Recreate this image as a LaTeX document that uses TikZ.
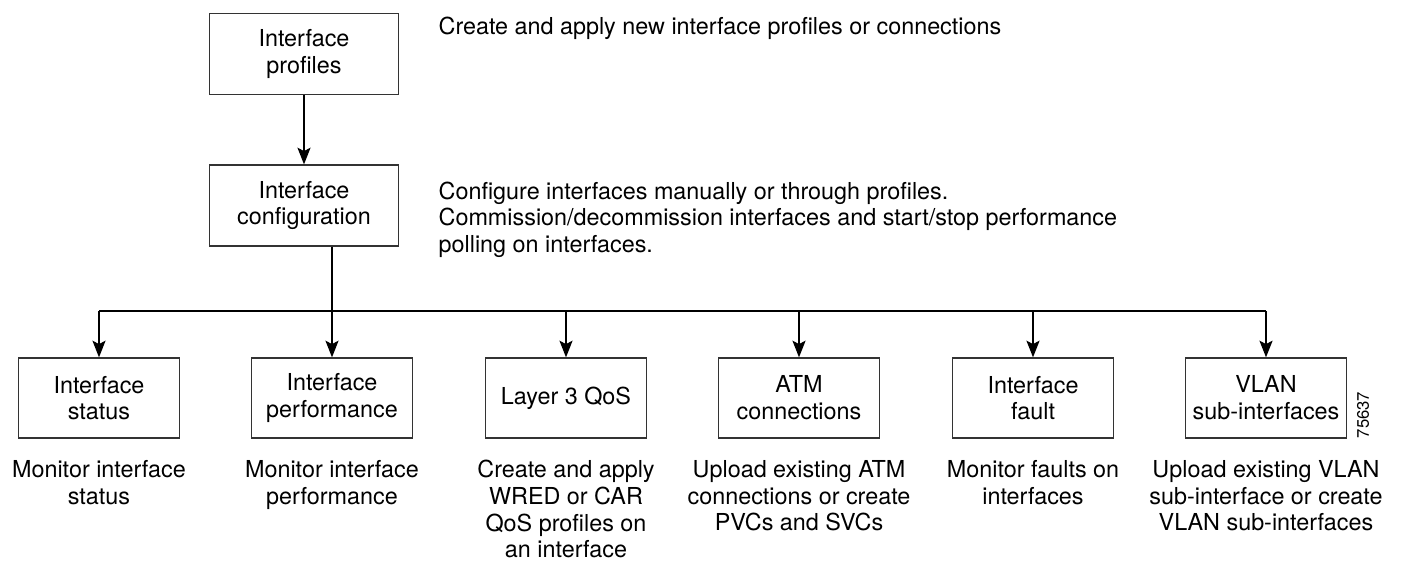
\documentclass[tikz,border=0pt]{standalone}
\usepackage{fontspec}
\setmainfont{TeX Gyre Heros}
\usetikzlibrary{positioning,arrows.meta}
\begin{document}
\begin{tikzpicture}[x=0.02cm,y=-0.02cm]
\def\ybox{398}
\def\ydesc{0.42cm}
\tikzset{base/.style={draw=black!80,line width=0.8pt,align=center,
font=\fontsize{13.3}{15.2}\selectfont},
box/.style={base,minimum width=3.22cm,minimum height=1.6cm},
topbox/.style={base,minimum width=3.78cm,minimum height=1.62cm},
desc/.style={align=center,inner sep=0pt,font=\fontsize{13.3}{15.2}\selectfont},
note/.style={align=left,inner sep=0pt,font=\fontsize{13.3}{15.2}\selectfont},
every path/.style={line width=0.75pt},
>={Stealth[length=9.5pt,width=7.5pt,inset=2pt]}}
\useasboundingbox (0,0) rectangle (1403,561);
% upper part
\node[topbox] at (304,54) (PROF) {Interface\\profiles};
\node[topbox] at (304,205.5) (CONF) {Interface\\configuration};
\node[note,anchor=base west] at (438,34) (PROFTXT)
  {Create and apply new interface profiles or connections};
\node[note,anchor=north west] at (438,181) (CONFTXT)
  {Configure interfaces manually or through profiles.\\
   Commission/decommission interfaces and start/stop performance\\
   polling on interfaces.};
\draw[->] (PROF) -- (CONF);
% lower row
\node[box] at (99,\ybox) (STAT) {Interface\\status};
\node[box] at (332,\ybox) (PERF) {Interface\\performance};
\node[box] at (566,\ybox) (QOS) {Layer 3 QoS};
\node[box] at (799,\ybox) (ATM) {ATM\\connections};
\node[box] at (1033,\ybox) (FAULT) {Interface\\fault};
\node[box] at (1266,\ybox) (VLAN) {VLAN\\sub-interfaces};
\node[desc,below=\ydesc of STAT] (STATTXT) {Monitor interface\\status};
\node[desc,below=\ydesc of PERF] (PERFTXT) {Monitor interface\\performance};
\node[desc,below=\ydesc of QOS] (QOSTXT)
  {Create and apply\\WRED or CAR\\QoS profiles on\\an interface};
\node[desc,below=\ydesc of ATM] (ATMTXT)
  {Upload existing ATM\\connections or create\\PVCs and SVCs};
\node[desc,below=\ydesc of FAULT] (FAULTTXT) {Monitor faults on\\interfaces};
\node[desc,below=\ydesc of VLAN] (VLANTXT)
  {Upload existing VLAN\\sub-interface or create\\VLAN sub-interfaces};
\node[rotate=90,inner sep=0pt,font=\fontsize{9.5}{11}\selectfont] at (1363,415) (FIGNO) {75637};
% branches
\coordinate (BUS) at (0,311);
\draw[->] (CONF.south -| PERF) -- (PERF);
\draw (STAT |- BUS) -- (VLAN |- BUS);
\draw[->] (STAT |- BUS) -- (STAT);
\draw[->] (QOS |- BUS) -- (QOS);
\draw[->] (ATM |- BUS) -- (ATM);
\draw[->] (FAULT |- BUS) -- (FAULT);
\draw[->] (VLAN |- BUS) -- (VLAN);
\end{tikzpicture}
\end{document}
